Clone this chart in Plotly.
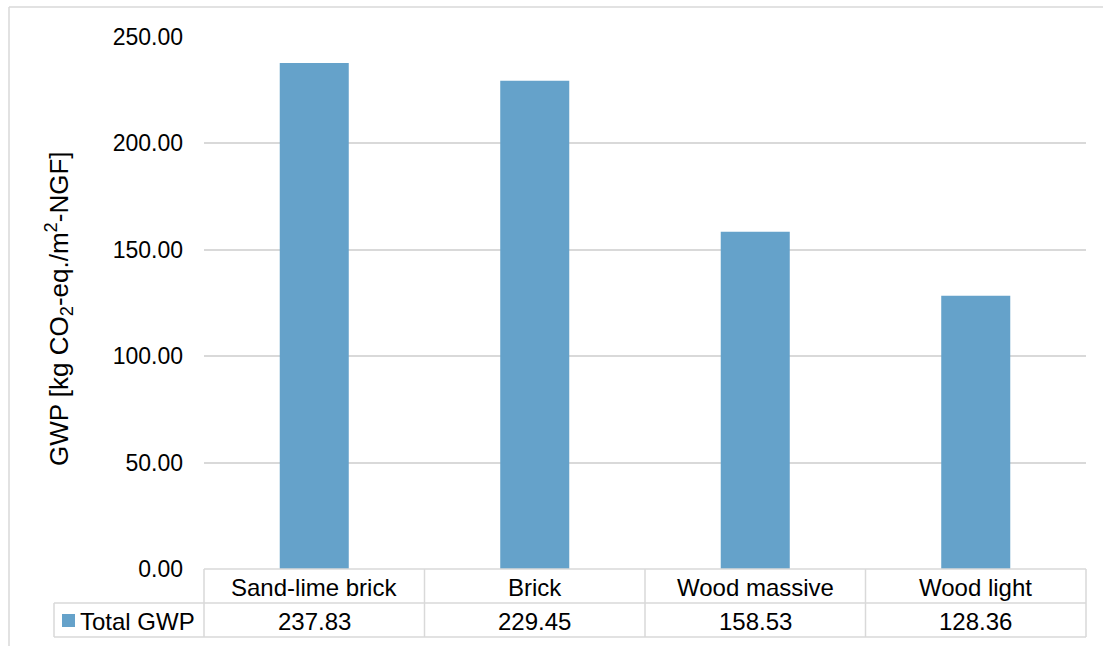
import plotly.graph_objects as go

# Global warming potential per construction type
categories = ["Sand-lime brick", "Brick", "Wood massive", "Wood light"]
total_gwp = [237.83, 229.45, 158.53, 128.36]
series_name = "Total GWP"
y_ticks = [0, 50, 100, 150, 200, 250]
y_tick_labels = [f"{v:.2f}" for v in y_ticks]

W, H = 1103, 646
BAR = "#65A2CA"
GRID = "#D9D9D9"
FONT = "Arial, Liberation Sans, sans-serif"
FS = 23      # axis tick labels
FS_TAB = 24  # data table text

def px(x):
    return x / W


def py(y):
    return 1 - y / H


# plot area in pixels
PL, PR, PT, PB = 204, 1086, 37, 569
ROW1, ROW2 = 603, 637
LEG_L = 54

fig = go.Figure()
fig.add_trace(go.Bar(
    x=categories, y=total_gwp, name=series_name,
    marker=dict(color=BAR, line=dict(width=0)),
    showlegend=False, hoverinfo="x+y",
))

shapes = []


def line(x0, y0, x1, y1, color=GRID, w=1.5):
    shapes.append(dict(type="line", xref="paper", yref="paper",
                       x0=px(x0), y0=py(y0), x1=px(x1), y1=py(y1),
                       line=dict(color=color, width=w)))


# outer chart frame (left and top edges visible)
line(9, 7, W + 5, 7)
line(9, 7, 9, H + 5)

# data table grid
line(PL, PB, PR, PB)
line(LEG_L, ROW1, PR, ROW1)
line(LEG_L, ROW2, PR, ROW2)
line(LEG_L, ROW1, LEG_L, ROW2)
n = len(categories)
col_w = (PR - PL) / n
for i in range(n + 1):
    xx = PL + i * col_w
    line(xx, PB, xx, ROW2)

# legend key square
shapes.append(dict(type="rect", xref="paper", yref="paper",
                   x0=px(62), x1=px(75), y0=py(627), y1=py(614),
                   fillcolor=BAR, line=dict(width=0)))

annotations = []
for cat, val in zip(categories, total_gwp):
    annotations.append(dict(x=cat, xref="x", y=py((PB + ROW1) / 2 + 1), yref="paper",
                            text=cat, showarrow=False, xanchor="center", yanchor="middle",
                            font=dict(size=FS_TAB, color="#000", family=FONT)))
    annotations.append(dict(x=cat, xref="x", y=py((ROW1 + ROW2) / 2 + 1), yref="paper",
                            text=f"{val:.2f}", showarrow=False, xanchor="center", yanchor="middle",
                            font=dict(size=FS_TAB, color="#000", family=FONT)))

annotations.append(dict(x=px(78), xref="paper", y=py((ROW1 + ROW2) / 2 + 1), yref="paper",
                        text=series_name, showarrow=False, xanchor="left", yanchor="middle",
                        font=dict(size=FS_TAB, color="#000", family=FONT)))

# axis title
annotations.append(dict(x=px(59), xref="paper", y=py(309), yref="paper",
                        text="GWP [kg CO<sub>2</sub>-eq./m<sup>2</sup>-NGF]",
                        showarrow=False, textangle=-90, xanchor="center", yanchor="middle",
                        font=dict(size=26, color="#000", family=FONT)))

fig.update_layout(
    width=W, height=H,
    margin=dict(l=0, r=0, t=0, b=0, pad=0),
    paper_bgcolor="white", plot_bgcolor="white",
    bargap=0.687,
    shapes=shapes,
    annotations=annotations,
    font=dict(family=FONT, size=FS, color="#000"),
    xaxis=dict(domain=[px(PL), px(PR)], showticklabels=False, showgrid=False,
               zeroline=False, showline=False, ticks="", automargin=False),
    yaxis=dict(domain=[py(PB), py(PT)], range=[0, 250], tickvals=y_ticks,
               ticktext=y_tick_labels, showgrid=True, gridcolor=GRID, gridwidth=1.5,
               zeroline=False, showline=False, ticks="", ticklabelstandoff=20,
               automargin=False,
               tickfont=dict(size=FS, color="#000", family=FONT)),
)

fig.write_html("out.html")
